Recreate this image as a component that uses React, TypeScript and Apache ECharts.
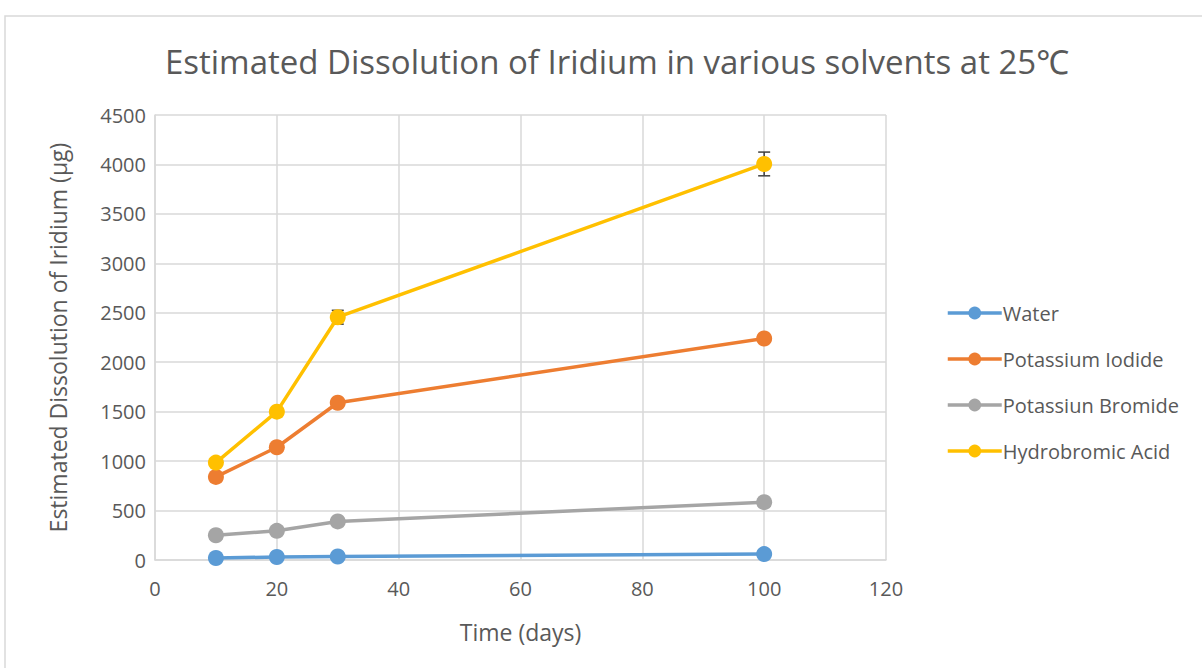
import React, { useEffect, useRef } from "react";
import * as echarts from "echarts";

const days = [10, 20, 30, 100];
const water = [20, 30, 35, 60];
const potassiumIodide = [840, 1140, 1590, 2240];
const potassiumBromide = [250, 295, 390, 585];
const hydrobromicAcid = [985, 1500, 2455, 4005];
const hbrErrors = [0, 0, 70, 120];

const seriesNames = ["Water", "Potassium Iodide", "Potassiun Bromide", "Hydrobromic Acid"];
const seriesColors = ["#5B9BD5", "#ED7D31", "#A5A5A5", "#FFC000"];

const FONT = "'Open Sans', 'Noto Sans', sans-serif";

export default function App() {
  const ref = useRef<HTMLDivElement>(null);
  useEffect(() => {
    document.body.style.margin = "0";
    const chart = echarts.init(ref.current!, null, { renderer: "svg" });
    const allData = [water, potassiumIodide, potassiumBromide, hydrobromicAcid];
    const lineSeries = allData.map((vals, i) => ({
      name: seriesNames[i],
      type: "line",
      data: days.map((d, j) => [d, vals[j]]),
      symbol: "circle",
      symbolSize: 16,
      lineStyle: { width: 3.5, color: seriesColors[i] },
      itemStyle: { color: seriesColors[i] },
      z: 3,
    }));
    const errData = days
      .map((d, j) => [d, hydrobromicAcid[j] - hbrErrors[j], hydrobromicAcid[j] + hbrErrors[j], hbrErrors[j]])
      .filter((e) => e[3] > 0);
    const errSeries = {
      type: "custom",
      name: "err",
      data: errData,
      z: 2,
      renderItem: (params: any, api: any) => {
        const x = api.value(0);
        const lo = api.coord([x, api.value(1)]);
        const hi = api.coord([x, api.value(2)]);
        const w = 6;
        const style = { stroke: "#404040", lineWidth: 1.5 };
        return {
          type: "group",
          children: [
            { type: "line", shape: { x1: lo[0], y1: lo[1], x2: hi[0], y2: hi[1] }, style },
            { type: "line", shape: { x1: lo[0] - w, y1: lo[1], x2: lo[0] + w, y2: lo[1] }, style },
            { type: "line", shape: { x1: hi[0] - w, y1: hi[1], x2: hi[0] + w, y2: hi[1] }, style },
          ],
        };
      },
    };
    chart.setOption({
      animation: false,
      backgroundColor: "#ffffff",
      textStyle: { fontFamily: FONT },
      title: {
        text: "Estimated Dissolution of Iridium in various solvents at 25℃",
        left: 612,
        textAlign: "center",
        top: 40,
        textStyle: { fontFamily: FONT, fontSize: 33, fontWeight: "normal", color: "#595959" },
      },
      graphic: [
        {
          type: "rect",
          shape: { x: 5, y: 16, width: 1250, height: 700 },
          style: { fill: "none", stroke: "#d9d9d9", lineWidth: 1.5 },
          silent: true,
        },
      ],
      legend: {
        data: seriesNames,
        orient: "vertical",
        left: 946,
        top: 303,
        padding: 0,
        itemGap: 26,
        itemWidth: 54,
        itemHeight: 16,
        lineStyle: { width: 3.5 },
        textStyle: { fontFamily: FONT, fontSize: 20, color: "#595959", padding: [0, 0, 0, -4] },
      },
      grid: { left: 155, right: 316, top: 115, bottom: 108 },
      xAxis: {
        type: "value",
        min: 0,
        max: 120,
        interval: 20,
        name: "Time (days)",
        nameLocation: "middle",
        nameGap: 60,
        nameTextStyle: { fontFamily: FONT, fontSize: 23, color: "#595959" },
        axisLine: { show: true, lineStyle: { color: "#d9d9d9", width: 1.5 } },
        axisTick: { show: false },
        axisLabel: { fontFamily: FONT, fontSize: 20, color: "#595959", margin: 18 },
        splitLine: { show: true, lineStyle: { color: "#d9d9d9", width: 1.5 } },
      },
      yAxis: {
        type: "value",
        min: 0,
        max: 4500,
        interval: 500,
        name: "Estimated Dissolution of Iridium (μg)",
        nameLocation: "middle",
        nameGap: 86,
        nameRotate: 90,
        nameTextStyle: { fontFamily: FONT, fontSize: 23, color: "#595959" },
        axisLine: { show: true, lineStyle: { color: "#d9d9d9", width: 1.5 } },
        axisTick: { show: false },
        axisLabel: {
          fontFamily: FONT,
          fontSize: 20,
          color: "#595959",
          margin: 9,
          formatter: (v: number) => String(v),
        },
        splitLine: { show: true, lineStyle: { color: "#d9d9d9", width: 1.5 } },
      },
      series: [...lineSeries, errSeries],
    });
    return () => chart.dispose();
  }, []);
  return (
    <div
      ref={ref}
      style={{ position: "absolute", left: 0, top: 0, width: 1202, height: 668 }}
    />
  );
}
